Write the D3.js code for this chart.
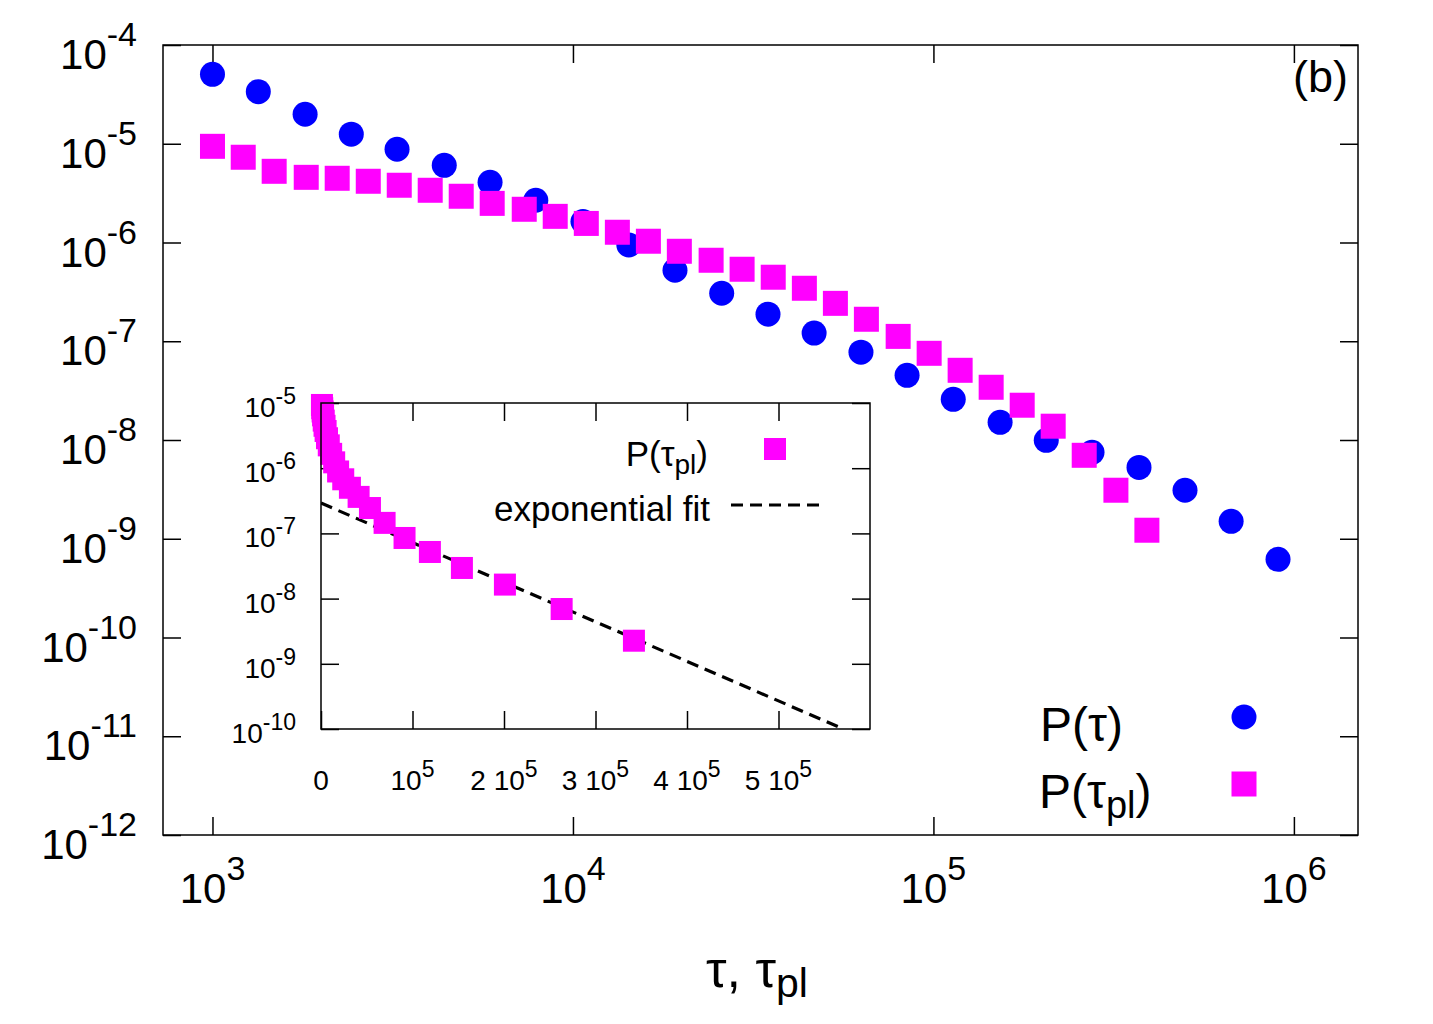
<!DOCTYPE html>
<html>
<head>
<meta charset="utf-8">
<script src="https://cdn.jsdelivr.net/npm/d3@7"></script>
<style>
  body { margin: 0; background: #fff; }
  text { font-family: "Liberation Sans", Arial, Helvetica, sans-serif; fill: #000; }
</style>
</head>
<body>
<svg id="chart"></svg>
<script>
// P(tau), blue circles
const tauX = [1000, 1340, 1807, 2427, 3251, 4395, 5889, 7887, 10660, 14290, 19190, 25860,
              34760, 46670, 62950, 84510, 113500, 153100, 205600, 275400, 371800, 498800, 669700, 903600];
const pTau = [5.05e-5, 3.37e-5, 1.99e-5, 1.25e-5, 8.79e-6, 6.05e-6, 4.07e-6, 2.68e-6, 1.63e-6, 9.44e-7, 5.24e-7, 3.06e-7,
              1.88e-7, 1.21e-7, 7.75e-8, 4.52e-8, 2.58e-8, 1.51e-8, 9.93e-9, 7.50e-9, 5.28e-9, 3.10e-9, 1.50e-9, 6.19e-10];

// P(tau_pl), magenta squares
const tauPlX = [1000, 1217, 1483, 1820, 2218, 2705, 3297, 4018, 4898, 5970, 7326, 8929, 10890, 13280, 16190, 19730,
                24170, 29460, 35940, 43850, 53460, 65170, 79830, 97310, 118600, 144600, 176300, 214900, 262000, 320800, 391000];
const pTauPl = [9.42e-6, 7.30e-6, 5.26e-6, 4.57e-6, 4.47e-6, 4.17e-6, 3.80e-6, 3.38e-6, 2.94e-6, 2.49e-6, 2.17e-6, 1.84e-6,
                1.56e-6, 1.27e-6, 1.03e-6, 8.15e-7, 6.61e-7, 5.36e-7, 4.45e-7, 3.44e-7, 2.42e-7, 1.67e-7, 1.12e-7, 7.55e-8,
                5.08e-8, 3.42e-8, 2.25e-8, 1.38e-8, 7.00e-9, 3.10e-9, 1.22e-9];

// inset: P(tau_pl) on linear x, with exponential fit
const insetX = [1040, 1350, 1760, 2290, 2980, 3870, 5040, 6550, 8500, 11100, 14400, 18700, 24300, 31600,
                41100, 53500, 69500, 91300, 119000, 154000, 201000, 263000, 342000];
const insetP = [9.33e-6, 8.32e-6, 7.41e-6, 6.46e-6, 5.37e-6, 4.47e-6, 3.72e-6, 2.88e-6, 2.24e-6, 1.66e-6, 1.23e-6,
                8.91e-7, 6.76e-7, 5.01e-7, 3.63e-7, 2.45e-7, 1.45e-7, 8.51e-8, 5.19e-8, 2.95e-8, 1.64e-8, 6.92e-9, 2.26e-9];
const fitX = [0, 571000];
const fitP = [2.92e-7, 1.0e-10];

const xTickExp = [3, 4, 5, 6];
const yTickExp = [-4, -5, -6, -7, -8, -9, -10, -11, -12];
const insetXTicks = [0, 1e5, 2e5, 3e5, 4e5, 5e5];
const insetXLabels = [["0", ""], ["10", "5"], ["2 10", "5"], ["3 10", "5"], ["4 10", "5"], ["5 10", "5"]];
const insetYTickExp = [-5, -6, -7, -8, -9, -10];

const width = 1433, height = 1024;
const svg = d3.select("#chart").attr("width", width).attr("height", height);
svg.append("rect").attr("width", width).attr("height", height).attr("fill", "#fff");

// main frame
const L = 163, R = 1358, T = 45, B = 835;
let x = d3.scaleLog().domain([729, 1.506e6]).range([L, R]);
let y = d3.scaleLog().domain([1e-12, 1e-4]).range([B, T]);

// label "10" with a raised exponent
function powText(g, px, py, base, exp, size, supSize, rise, anchor) {
    let t = g.append("text")
        .attr("x", px)
        .attr("y", py)
        .attr("text-anchor", anchor)
        .attr("font-size", size);
    t.append("tspan").text(base);
    if (exp !== "") {
        t.append("tspan").attr("font-size", supSize).attr("dy", -rise).text(exp);
    }
    return t;
}

let tickLen = 18;
let xVals = xTickExp.map(e => Math.pow(10, e));
let yVals = yTickExp.map(e => Math.pow(10, e));

// ticks on all four sides, pointing inward
svg.append("g").attr("transform", `translate(0,${B})`)
    .call(d3.axisBottom(x).tickValues(xVals).tickSize(-tickLen).tickFormat(""));
svg.append("g").attr("transform", `translate(0,${T})`)
    .call(d3.axisTop(x).tickValues(xVals).tickSize(-tickLen).tickFormat(""));
svg.append("g").attr("transform", `translate(${L},0)`)
    .call(d3.axisLeft(y).tickValues(yVals).tickSize(-tickLen).tickFormat(""));
svg.append("g").attr("transform", `translate(${R},0)`)
    .call(d3.axisRight(y).tickValues(yVals).tickSize(-tickLen).tickFormat(""));
svg.selectAll(".domain").remove();
svg.selectAll(".tick line").attr("stroke", "#000").attr("stroke-width", 1.5);

svg.append("rect")
    .attr("x", L).attr("y", T)
    .attr("width", R - L).attr("height", B - T)
    .attr("fill", "none").attr("stroke", "#000").attr("stroke-width", 1.5);

// tick labels
let labels = svg.append("g");
yTickExp.forEach(e => powText(labels, 137, y(Math.pow(10, e)) + 24, "10", String(e), 42, 34, 23, "end"));
xTickExp.forEach(e => powText(labels, x(Math.pow(10, e)), 903, "10", String(e), 42, 34, 23, "middle"));

// axis title: tau, tau_pl
let xt = svg.append("text").attr("x", 757).attr("y", 987).attr("text-anchor", "middle").attr("font-size", 52);
xt.append("tspan").text("τ, τ");
xt.append("tspan").attr("font-size", 41).attr("dy", 10).text("pl");

// panel tag
svg.append("text").attr("x", 1348).attr("y", 92).attr("text-anchor", "end").attr("font-size", 45).text("(b)");

// data
svg.append("g").selectAll("circle")
    .data(tauX)
    .enter().append("circle")
    .attr("cx", d => x(d))
    .attr("cy", (d, i) => y(pTau[i]))
    .attr("r", 12.5)
    .attr("fill", "#0000ff");

let sq = 25;
svg.append("g").selectAll("rect")
    .data(tauPlX)
    .enter().append("rect")
    .attr("x", d => x(d) - sq / 2)
    .attr("y", (d, i) => y(pTauPl[i]) - sq / 2)
    .attr("width", sq).attr("height", sq)
    .attr("fill", "#ff00ff");

// main legend
svg.append("text").attr("x", 1040).attr("y", 741).attr("font-size", 48).text("P(τ)");
svg.append("circle").attr("cx", 1244).attr("cy", 717).attr("r", 12.5).attr("fill", "#0000ff");
let lg2 = svg.append("text").attr("x", 1039).attr("y", 808).attr("font-size", 48);
lg2.append("tspan").text("P(τ");
lg2.append("tspan").attr("font-size", 38).attr("dy", 10).text("pl");
lg2.append("tspan").attr("dy", -10).text(")");
svg.append("rect").attr("x", 1244 - sq / 2).attr("y", 784 - sq / 2).attr("width", sq).attr("height", sq).attr("fill", "#ff00ff");

// ---------- inset ----------
const iL = 321, iR = 870, iT = 403, iB = 729;
let ix = d3.scaleLinear().domain([0, 6e5]).range([iL, iR]);
let iy = d3.scaleLog().domain([1e-10, 1e-5]).range([iB, iT]);

let inset = svg.append("g");
inset.append("rect")
    .attr("x", iL).attr("y", iT)
    .attr("width", iR - iL).attr("height", iB - iT)
    .attr("fill", "#fff");

let iyVals = insetYTickExp.map(e => Math.pow(10, e));
inset.append("g").attr("transform", `translate(0,${iB})`)
    .call(d3.axisBottom(ix).tickValues(insetXTicks).tickSize(-tickLen).tickFormat(""));
inset.append("g").attr("transform", `translate(0,${iT})`)
    .call(d3.axisTop(ix).tickValues(insetXTicks).tickSize(-tickLen).tickFormat(""));
inset.append("g").attr("transform", `translate(${iL},0)`)
    .call(d3.axisLeft(iy).tickValues(iyVals).tickSize(-tickLen).tickFormat(""));
inset.append("g").attr("transform", `translate(${iR},0)`)
    .call(d3.axisRight(iy).tickValues(iyVals).tickSize(-tickLen).tickFormat(""));
inset.selectAll(".domain").remove();
inset.selectAll(".tick line").attr("stroke", "#000").attr("stroke-width", 1.5);

insetYTickExp.forEach(e => powText(inset, 296, iy(Math.pow(10, e)) + 14, "10", String(e), 28, 23, 13, "end"));
insetXTicks.forEach((v, i) => powText(inset, ix(v), 790, insetXLabels[i][0], insetXLabels[i][1], 28, 23, 13, "middle"));

// exponential fit, clipped to the inset frame
svg.append("clipPath").attr("id", "insetClip")
    .append("rect").attr("x", iL).attr("y", iT).attr("width", iR - iL).attr("height", iB - iT);
let fitLine = d3.line().x(d => ix(d)).y((d, i) => iy(fitP[i]));
inset.append("path")
    .datum(fitX)
    .attr("d", fitLine)
    .attr("clip-path", "url(#insetClip)")
    .attr("fill", "none")
    .attr("stroke", "#000")
    .attr("stroke-width", 3.2)
    .attr("stroke-dasharray", "12,7");

let isq = 22;
inset.append("g").selectAll("rect")
    .data(insetX)
    .enter().append("rect")
    .attr("x", d => ix(d) - isq / 2)
    .attr("y", (d, i) => iy(insetP[i]) - isq / 2)
    .attr("width", isq).attr("height", isq)
    .attr("fill", "#ff00ff");

inset.append("rect")
    .attr("x", iL).attr("y", iT)
    .attr("width", iR - iL).attr("height", iB - iT)
    .attr("fill", "none").attr("stroke", "#000").attr("stroke-width", 1.5);

// inset legend
let il1 = inset.append("text").attr("x", 708).attr("y", 466).attr("text-anchor", "end").attr("font-size", 35);
il1.append("tspan").text("P(τ");
il1.append("tspan").attr("font-size", 28).attr("dy", 8).text("pl");
il1.append("tspan").attr("dy", -8).text(")");
inset.append("rect").attr("x", 775 - isq / 2).attr("y", 449 - isq / 2).attr("width", isq).attr("height", isq).attr("fill", "#ff00ff");
inset.append("text").attr("x", 710).attr("y", 521).attr("text-anchor", "end").attr("font-size", 35).text("exponential fit");
inset.append("line")
    .attr("x1", 731).attr("x2", 820).attr("y1", 505).attr("y2", 505)
    .attr("stroke", "#000").attr("stroke-width", 3.2).attr("stroke-dasharray", "12,7");
</script>
</body>
</html>
